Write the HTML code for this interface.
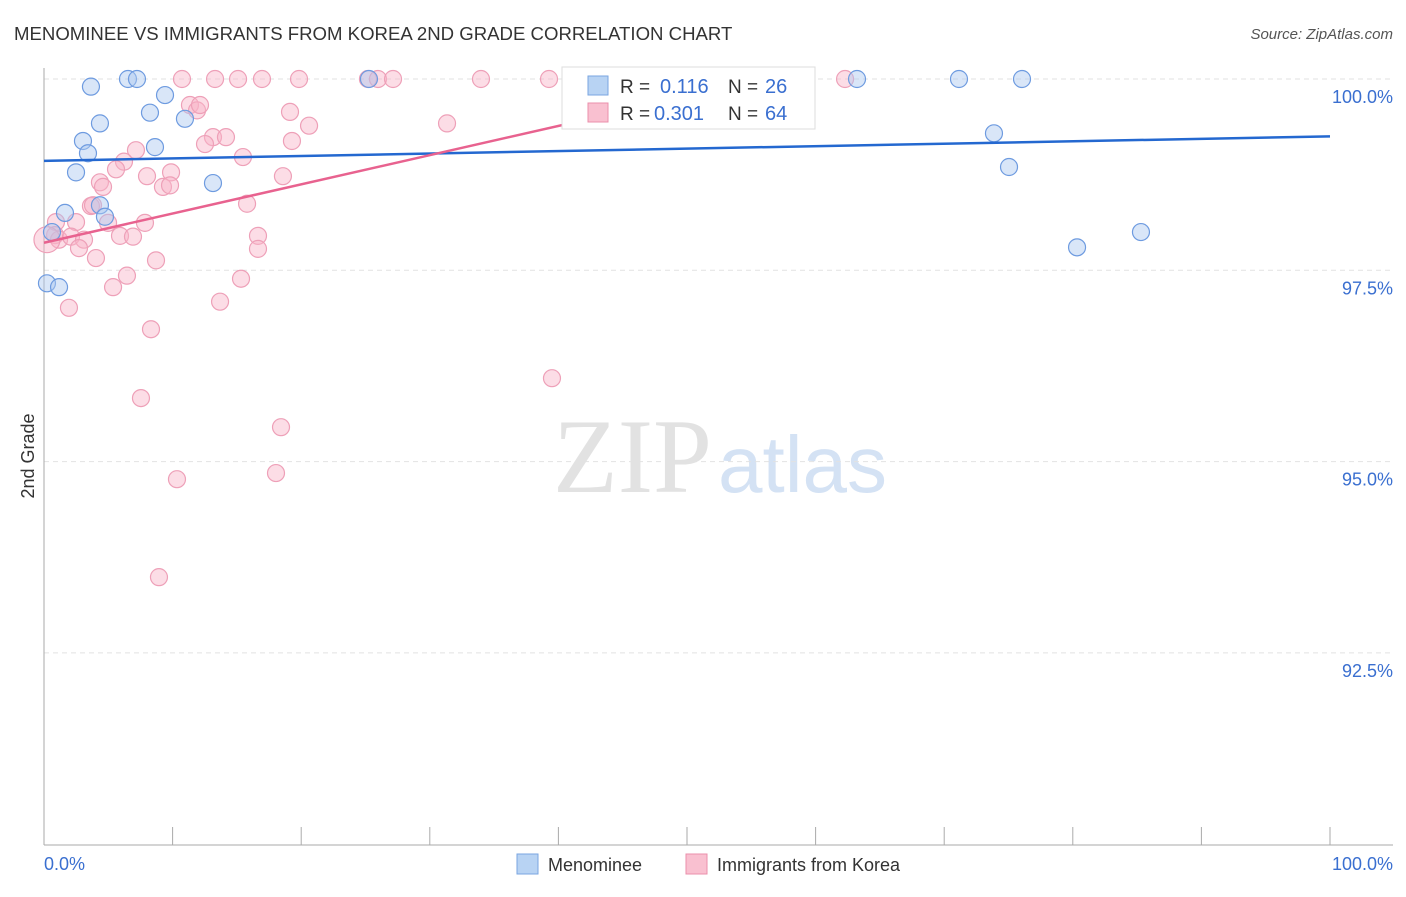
<!DOCTYPE html>
<html><head><meta charset="utf-8"><style>
body{margin:0;background:#fff;font-family:"Liberation Sans",sans-serif}
svg text{font-family:"Liberation Sans",sans-serif}
</style></head><body>
<svg id="c" width="1406" height="892">
<text x="14" y="40" font-size="18.6" fill="#333">MENOMINEE VS IMMIGRANTS FROM KOREA 2ND GRADE CORRELATION CHART</text>
<text x="1393" y="39" font-size="15" fill="#555" text-anchor="end" font-style="italic">Source: ZipAtlas.com</text>
<text x="553" y="492" font-size="106" fill="#e2e2e2" font-family="Liberation Serif" style="font-family:'Liberation Serif',serif">ZIP</text>
<text x="718" y="492" font-size="80" fill="#d4e2f4">atlas</text>
<text x="34" y="456" font-size="18" fill="#333" text-anchor="middle" transform="rotate(-90 34 456)">2nd Grade</text>
<g id="grid"></g><g id="pts"></g><g id="lines"></g>
<g>
<rect x="562" y="67" width="253" height="62" fill="#fff" stroke="#ddd"/>
<rect x="588" y="76" width="20" height="19" fill="#b8d3f3" stroke="#7aa6e0"/>
<rect x="588" y="103" width="20" height="19" fill="#f9c0d0" stroke="#eb8fab"/>
<text x="620" y="93" font-size="19" fill="#333">R =</text>
<text x="660" y="93" font-size="20" fill="#3a6fd0">0.116</text>
<text x="728" y="93" font-size="19" fill="#333">N =</text>
<text x="765" y="93" font-size="20" fill="#3a6fd0">26</text>
<text x="620" y="120" font-size="19" fill="#333">R =</text>
<text x="654" y="120" font-size="20" fill="#3a6fd0">0.301</text>
<text x="728" y="120" font-size="19" fill="#333">N =</text>
<text x="765" y="120" font-size="20" fill="#3a6fd0">64</text>
</g>
<text x="44" y="870" font-size="18" fill="#3a6fd0">0.0%</text>
<text x="1393" y="870" font-size="18" fill="#3a6fd0" text-anchor="end">100.0%</text>
<rect x="517" y="854" width="21" height="20" fill="#b8d3f3" stroke="#7aa6e0"/>
<text x="548" y="871" font-size="18" fill="#333">Menominee</text>
<rect x="686" y="854" width="21" height="20" fill="#f9c0d0" stroke="#eb8fab"/>
<text x="717" y="871" font-size="18" fill="#333">Immigrants from Korea</text>
</svg>
<script>
const yTicks=[100,97.5,95,92.5];
const yTickLabels=["100.0%","97.5%","95.0%","92.5%"];
const blueX=[3.65,6.53,7.23,9.41,8.24,4.35,3.03,3.42,8.63,10.96,2.49,13.14,4.35,1.63,4.74,0.62,0.23,1.17,25.27,63.22,71.15,76.05,73.87,75.04,80.33,85.30];
const blueY=[99.90,100,100,99.79,99.56,99.42,99.19,99.03,99.11,99.48,98.78,98.64,98.35,98.25,98.20,98.00,97.33,97.28,100,100,100,100,99.29,98.85,97.80,98.00];
const pinkX=[10.73,13.30,15.09,16.95,19.83,25.19,25.97,27.14,33.98,39.27,62.29,11.35,11.90,12.13,19.13,31.34,20.61,13.14,14.15,12.52,19.28,15.47,7.15,6.22,5.60,9.88,8.01,18.58,4.35,4.59,9.25,9.80,3.65,3.81,15.79,0.93,2.49,4.98,7.85,0.86,1.17,2.10,3.11,2.72,5.91,6.92,16.64,16.64,4.04,8.71,6.45,15.32,5.37,13.69,1.94,8.32,39.50,7.54,18.43,10.34,18.04,8.94,0.23];
const pinkY=[100,100,100,100,100,100,100,100,100,100,100,99.66,99.59,99.66,99.57,99.42,99.39,99.24,99.24,99.15,99.19,98.98,99.07,98.92,98.82,98.78,98.73,98.73,98.65,98.59,98.59,98.61,98.34,98.35,98.37,98.13,98.13,98.12,98.12,97.96,97.90,97.94,97.90,97.79,97.95,97.94,97.95,97.78,97.66,97.63,97.43,97.39,97.28,97.09,97.01,96.73,96.09,95.83,95.45,94.77,94.85,93.49,97.90];
const blueFit=[98.93,99.25];
const pinkFit=[97.86,100];
const pinkFitEndX=56.07;
const sx=v=>44+v*12.86, sy=v=>79+(100-v)*76.52;
const NS="http://www.w3.org/2000/svg";
function mk(t,a,p){const e=document.createElementNS(NS,t);for(const k in a)e.setAttribute(k,a[k]);p.appendChild(e);return e;}
const g=document.getElementById('grid');
yTicks.forEach((t,i)=>{
 const l=mk('line',{x1:44,x2:1393,y1:sy(t),y2:sy(t),stroke:'#e2e2e2','stroke-dasharray':'5,4'},g);
 
 
 const tx=mk('text',{x:1393,y:sy(t)+24,'font-size':18,fill:'#3a6fd0','text-anchor':'end'},g);
 tx.textContent=yTickLabels[i];
 
 
});
const ax=mk('line',{x1:44,x2:44,y1:68,y2:845,stroke:'#aaa'},g);


const bx=mk('line',{x1:44,x2:1393,y1:845,y2:845,stroke:'#aaa'},g);


for(let i=0;i<=10;i++){
 const t=mk('line',{x1:sx(i*10),x2:sx(i*10),y1:827,y2:845,stroke:'#aaa'},g);
 
 
}
const p=document.getElementById('pts');
pinkX.forEach((x,i)=>{
 const c=mk('circle',{cx:sx(x),cy:sy(pinkY[i]),r:i==pinkX.length-1?13:8.5,fill:'rgba(249,180,200,0.45)',stroke:'#eea0b8','stroke-width':1.2},p);
 
 
});
blueX.forEach((x,i)=>{
 const c=mk('circle',{cx:sx(x),cy:sy(blueY[i]),r:8.5,fill:'rgba(170,200,240,0.45)',stroke:'#6e9be0','stroke-width':1.2},p);
 
 
});
const L=document.getElementById('lines');
const bl=mk('line',{x1:sx(0),y1:sy(blueFit[0]),x2:sx(100),y2:sy(blueFit[1]),stroke:'#2468d0','stroke-width':2.5},L);


const pl=mk('line',{x1:sx(0),y1:sy(pinkFit[0]),x2:sx(pinkFitEndX),y2:sy(pinkFit[1]),stroke:'#e8628f','stroke-width':2.5},L);


</script>
</body></html>
